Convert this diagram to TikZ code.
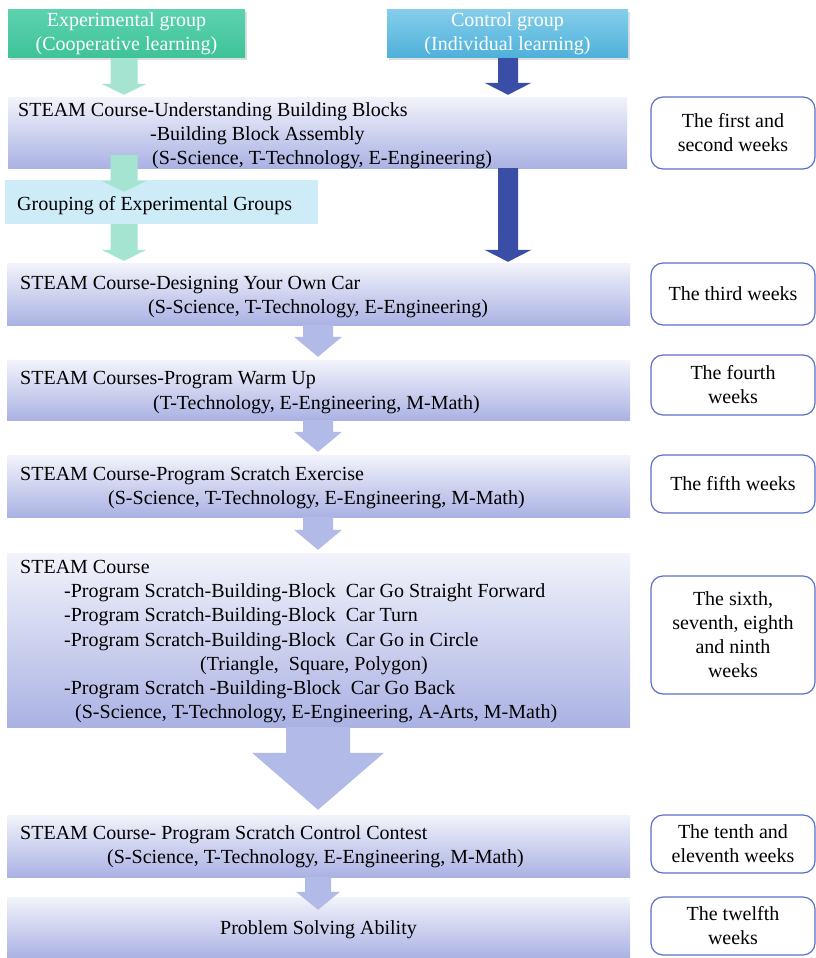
\documentclass[tikz,border=0pt]{standalone}
\usepackage{fontspec}
\setmainfont{Liberation Serif}
\usetikzlibrary{calc,shadows}

\definecolor{expTop}{RGB}{92,210,175}
\definecolor{expBot}{RGB}{62,195,152}
\definecolor{ctlTop}{RGB}{132,206,234}
\definecolor{ctlBot}{RGB}{78,176,218}
\definecolor{lavTop}{RGB}{242,243,251}
\definecolor{lavBot}{RGB}{170,178,227}
\definecolor{grpFill}{RGB}{206,236,247}
\definecolor{mint}{RGB}{164,228,208}
\definecolor{navy}{RGB}{58,78,168}
\definecolor{lavArrow}{RGB}{178,187,232}
\definecolor{weekLine}{RGB}{92,110,200}

% vertical block arrow: #1 start, #2 tip, #3 half shaft, #4 half head, #5 head length, #6 fill
\newcommand\blockarr[6]{%
  \path[fill=#6] let \p1=(#1), \p2=(#2) in
    (\x1-#3pt,\y1) -- (\x1+#3pt,\y1) -- (\x1+#3pt,\y2+#5pt) -- (\x1+#4pt,\y2+#5pt)
    -- (\x1,\y2) -- (\x1-#4pt,\y2+#5pt) -- (\x1-#3pt,\y2+#5pt) -- cycle;}

\begin{document}
\begin{tikzpicture}[x=1pt,y=-1pt,
  every node/.style={font=\fontsize{20}{24}\selectfont},
  groupbox/.style={rectangle, inner sep=0, align=center, text=white,
    drop shadow={opacity=0.25, shadow xshift=1.5pt, shadow yshift=-2pt}},
  course/.style={rectangle, inner sep=0, top color=lavTop, bottom color=lavBot},
  week/.style={rectangle, rounded corners=12pt, draw=weekLine, line width=1.2pt,
    fill=white, inner sep=0, align=center, minimum width=164},
  txt/.style={inner sep=0, anchor=base west}]

\useasboundingbox (0,0) rectangle (816,958);

% columns for the block arrows
\coordinate (colG) at (124,0);
\coordinate (colC) at (508,0);
\coordinate (colM) at (318,0);

% group heads
\node[groupbox, top color=expTop, bottom color=expBot, minimum width=237, minimum height=48]
  (exp) at (126.5,34) {Experimental group\\(Cooperative learning)};
\node[groupbox, top color=ctlTop, bottom color=ctlBot, minimum width=241, minimum height=48]
  (ctl) at (507.5,34) {Control group\\(Individual learning)};

% course boxes
\node[course, minimum width=619, minimum height=71] (box1) at (317.5,132.5) {};
\node[rectangle, fill=grpFill, inner sep=0, minimum width=313, minimum height=44] (grp) at (161.5,202) {};
\node[course, minimum width=623, minimum height=62] (box2) at (318.5,294) {};
\node[course, minimum width=623, minimum height=60] (box3) at (318.5,390) {};
\node[course, minimum width=623, minimum height=62] (box4) at (318.5,486) {};
\node[course, minimum width=623, minimum height=174] (box5) at (318.5,640) {};
\node[course, minimum width=623, minimum height=62] (box6) at (318.5,846) {};
\node[course, minimum width=623, minimum height=61] (box7) at (318.5,927.5) {};

% course texts
\node[txt] (t11) at (18,116) {STEAM Course-Understanding Building Blocks};
\node[txt] (t12) at (150,140) {-Building Block Assembly};
\node[txt] (t13) at (152,164) {(S-Science, T-Technology, E-Engineering)};
\node[txt] (tg) at (17,210) {Grouping of Experimental Groups};
\node[txt] (t21) at (20,289) {STEAM Course-Designing Your Own Car};
\node[txt] (t22) at (148,313) {(S-Science, T-Technology, E-Engineering)};
\node[txt] (t31) at (20,384) {STEAM Courses-Program Warm Up};
\node[txt] (t32) at (153,409) {(T-Technology, E-Engineering, M-Math)};
\node[txt] (t41) at (20,480) {STEAM Course-Program Scratch Exercise};
\node[txt] (t42) at (108,504) {(S-Science, T-Technology, E-Engineering, M-Math)};
\node[txt] (t51) at (20,573) {STEAM Course};
\node[txt] (t52) at (64,597) {-Program Scratch-Building-Block\ \ Car Go Straight Forward};
\node[txt] (t53) at (64,621) {-Program Scratch-Building-Block\ \ Car Turn};
\node[txt] (t54) at (64,646) {-Program Scratch-Building-Block\ \ Car Go in Circle};
\node[txt] (t55) at (200,670) {(Triangle,\ \ Square, Polygon)};
\node[txt] (t56) at (64,694) {-Program Scratch -Building-Block\ \ Car Go Back};
\node[txt] (t57) at (75,718) {(S-Science, T-Technology, E-Engineering, A-Arts, M-Math)};
\node[txt] (t61) at (20,839) {STEAM Course- Program Scratch Control Contest};
\node[txt] (t62) at (107,863) {(S-Science, T-Technology, E-Engineering, M-Math)};
\node[inner sep=0] (t71) at (318.5,930) {Problem Solving Ability};

% week labels
\node[week, minimum height=72] (wk1) at (733,133) {The first and\\second weeks};
\node[week, minimum height=62] (wk2) at (733,294) {The third weeks};
\node[week, minimum height=60] (wk3) at (733,385) {The fourth\\weeks};
\node[week, minimum height=58] (wk4) at (733,484) {The fifth weeks};
\node[week, minimum height=118] (wk5) at (733,635) {The sixth,\\seventh, eighth\\and ninth\\weeks};
\node[week, minimum height=58] (wk6) at (733,844) {The tenth and\\eleventh weeks};
\node[week, minimum height=58] (wk7) at (733,926) {The twelfth\\weeks};

% experimental-group path
\blockarr{exp.south -| colG}{$(box1.north -| colG)+(0,-2)$}{13.5}{22.5}{11}{mint}
\blockarr{$(box1.south -| colG)+(0,-13)$}{$(grp.north -| colG)+(0,12)$}{13.5}{22.5}{11}{mint}
\blockarr{grp.south -| colG}{$(box2.north -| colG)+(0,-2)$}{13.5}{22.5}{11}{mint}

% control-group path
\blockarr{ctl.south -| colC}{$(box1.north -| colC)+(0,-2)$}{10}{23.5}{12}{navy}
\blockarr{box1.south -| colC}{$(box2.north -| colC)+(0,-1)$}{10}{23.5}{12}{navy}

% shared course sequence
\blockarr{box2.south -| colM}{$(box3.north -| colM)+(0,-3)$}{15}{24}{20}{lavArrow}
\blockarr{box3.south -| colM}{$(box4.north -| colM)+(0,-3)$}{15}{24}{20}{lavArrow}
\blockarr{box4.south -| colM}{$(box5.north -| colM)+(0,-3)$}{15}{24}{20}{lavArrow}
\blockarr{box5.south -| colM}{$(box6.north -| colM)+(0,-5)$}{32}{66}{57}{lavArrow}
\blockarr{box6.south -| colM}{$(box7.north -| colM)+(0,13)$}{13}{22}{18}{lavArrow}
\end{tikzpicture}
\end{document}
